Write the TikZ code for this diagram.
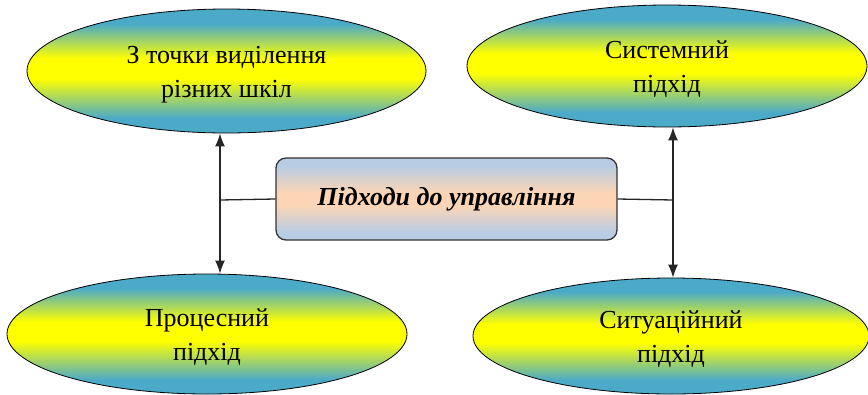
\documentclass[tikz,border=0pt]{standalone}
\usepackage{fontspec}
\setmainfont{Liberation Serif}
\usetikzlibrary{shapes.geometric,arrows.meta}
\definecolor{elteal}{RGB}{75,170,200}
\definecolor{elyel}{RGB}{255,255,0}
\definecolor{rblue}{RGB}{184,204,228}
\definecolor{rpeach}{RGB}{251,213,181}
\pgfdeclareverticalshading{ovalshade}{100bp}{color(0bp)=(elteal); color(31bp)=(elteal); color(47bp)=(elyel); color(55bp)=(elyel); color(69bp)=(elteal); color(100bp)=(elteal)}
\pgfdeclareverticalshading{hubshade}{100bp}{color(0bp)=(rblue); color(30bp)=(rblue); color(46bp)=(rpeach); color(54bp)=(rpeach); color(70bp)=(rblue); color(100bp)=(rblue)}
\newcommand{\ovup}{\rule{0pt}{24pt}}
\tikzset{
  oval/.style={ellipse,draw=black,line width=0.8pt,inner sep=0pt,
    shading=ovalshade,
    align=center,font=\fontsize{26}{34}\selectfont},
  hub/.style={rectangle,rounded corners=10pt,draw=black!80,line width=1.3pt,
    shading=hubshade,
    minimum width=341pt,minimum height=82pt,inner sep=0pt,
    font=\fontsize{26}{30}\selectfont\bfseries\itshape},
  link/.style={line width=1.3pt,black!85},
  arr/.style={link,-{Latex[length=13pt,width=10pt]}}
}
\begin{document}
\begin{tikzpicture}[x=1pt,y=1pt]
\useasboundingbox (0,0) rectangle (868,-394);
\node[oval,minimum width=399pt,minimum height=124pt] (tl) at (226.5,-71) {\ovup З точки виділення\\різних шкіл};
\node[oval,minimum width=400pt,minimum height=122pt] (tr) at (667,-66) {\ovup Системний\\підхід};
\node[oval,minimum width=400pt,minimum height=120pt] (bl) at (207,-334) {\ovup Процесний\\підхід};
\node[oval,minimum width=396pt,minimum height=116pt] (br) at (671,-336) {\ovup Ситуаційний\\підхід};
\node[hub] (c) at (446.5,-199) {Підходи до управління};
\coordinate (lj) at (220,-200);
\coordinate (rj) at (673,-200);
\draw[link] (c.west) -- (lj);
\draw[link] (c.east) -- (rj);
\draw[arr] (lj) -- (lj |- tl.south);
\draw[arr] (lj) -- (lj |- bl.north);
\draw[arr] (rj) -- (rj |- tr.south);
\draw[arr] (rj) -- (rj |- br.north);
\end{tikzpicture}
\end{document}
